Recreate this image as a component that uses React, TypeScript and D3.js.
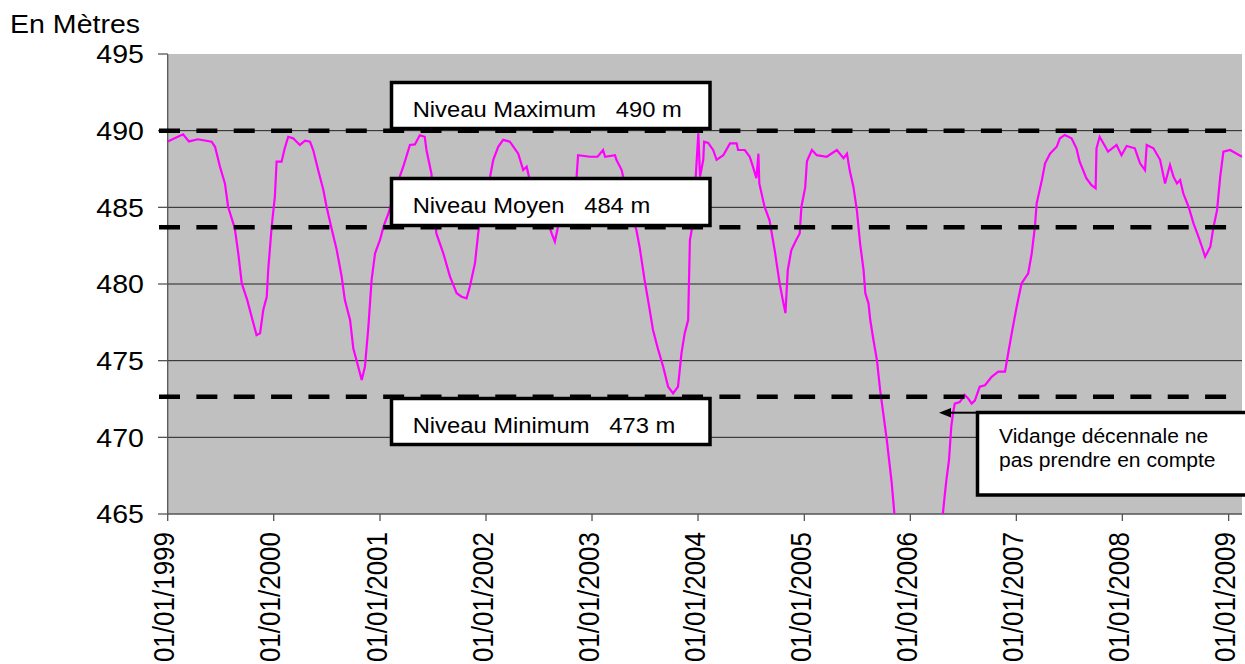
import { useEffect, useRef } from 'react'
import * as d3 from 'd3'

// water level of the reservoir (date, metres)
const level1999: [string, number][] = [
  ['1999-01-01', 489.3], ['1999-02-23', 489.76], ['1999-03-15', 489.3], ['1999-04-15', 489.44],
  ['1999-06-01', 489.28], ['1999-06-13', 488.95], ['1999-06-30', 487.65], ['1999-07-17', 486.56],
  ['1999-07-28', 485.04], ['1999-08-20', 483.63], ['1999-09-01', 482.0], ['1999-09-13', 480.04],
  ['1999-10-02', 478.95], ['1999-10-17', 477.87], ['1999-11-03', 476.67], ['1999-11-15', 476.78],
  ['1999-11-26', 478.3], ['1999-12-08', 479.17], ['1999-12-13', 480.9], ['1999-12-25', 483.74],
]
const level2000: [string, number][] = [
  ['2000-01-05', 485.7], ['2000-01-11', 487.98], ['2000-01-28', 487.98], ['2000-02-08', 488.85],
  ['2000-02-20', 489.6], ['2000-03-08', 489.5], ['2000-03-31', 489.07], ['2000-04-18', 489.35],
  ['2000-05-05', 489.28], ['2000-05-16', 488.74], ['2000-06-02', 487.43], ['2000-06-20', 486.13],
  ['2000-07-01', 485.04], ['2000-07-18', 483.63], ['2000-08-05', 482.22], ['2000-08-22', 480.48],
  ['2000-09-02', 478.95], ['2000-09-20', 477.65], ['2000-10-01', 475.8], ['2000-10-18', 474.6],
  ['2000-10-30', 473.74], ['2000-11-10', 474.6], ['2000-11-22', 477.2], ['2000-12-03', 480.26],
  ['2000-12-15', 482.0],
]
const level2001: [string, number][] = [
  ['2001-01-01', 482.87], ['2001-01-13', 483.74], ['2001-01-30', 484.6], ['2001-02-25', 486.3],
  ['2001-03-22', 487.65], ['2001-04-14', 489.07], ['2001-05-01', 489.1], ['2001-05-18', 489.7],
  ['2001-06-04', 489.6], ['2001-06-10', 488.74], ['2001-06-27', 487.2], ['2001-07-14', 483.3],
  ['2001-08-07', 482.0], ['2001-08-30', 480.48], ['2001-09-22', 479.4], ['2001-10-09', 479.17],
  ['2001-10-26', 479.07], ['2001-11-06', 479.8], ['2001-11-24', 481.35], ['2001-12-05', 483.3],
  ['2001-12-17', 484.8],
]
const level2002: [string, number][] = [
  ['2002-01-15', 487.0], ['2002-01-26', 488.1], ['2002-02-12', 488.95], ['2002-03-01', 489.4],
  ['2002-03-24', 489.28], ['2002-04-22', 488.5], ['2002-05-09', 487.43], ['2002-05-21', 487.65],
  ['2002-06-10', 486.0], ['2002-07-20', 484.8], ['2002-08-15', 483.3], ['2002-08-26', 482.76],
  ['2002-09-06', 483.74], ['2002-10-10', 485.5], ['2002-11-09', 487.0], ['2002-11-14', 488.4],
  ['2002-12-25', 488.3],
]
const level2003: [string, number][] = [
  ['2003-01-20', 488.3], ['2003-02-08', 488.74], ['2003-02-15', 488.3], ['2003-03-21', 488.4],
  ['2003-03-26', 488.1], ['2003-04-13', 487.43], ['2003-05-11', 485.0], ['2003-06-03', 483.5],
  ['2003-06-14', 482.4], ['2003-07-01', 480.26], ['2003-07-13', 478.95], ['2003-07-30', 477.0],
  ['2003-08-17', 475.7], ['2003-09-03', 474.6], ['2003-09-20', 473.3], ['2003-10-07', 472.87],
  ['2003-10-24', 473.3], ['2003-11-05', 475.48], ['2003-11-16', 476.78], ['2003-11-28', 477.65],
  ['2003-12-04', 482.87], ['2003-12-10', 483.5], ['2003-12-21', 486.0],
]
const level2004: [string, number][] = [
  ['2004-01-02', 489.83], ['2004-01-08', 487.0], ['2004-01-19', 488.1], ['2004-01-22', 489.28],
  ['2004-02-05', 489.2], ['2004-02-22', 488.74], ['2004-03-05', 488.1], ['2004-03-28', 488.4],
  ['2004-04-20', 489.17], ['2004-05-13', 489.17], ['2004-05-18', 488.74], ['2004-06-10', 488.74],
  ['2004-06-27', 488.3], ['2004-07-08', 487.65], ['2004-07-20', 486.9], ['2004-07-27', 488.5],
  ['2004-07-30', 486.56], ['2004-08-17', 485.04], ['2004-09-03', 484.17], ['2004-09-21', 482.2],
  ['2004-10-08', 480.04], ['2004-10-19', 478.95], ['2004-10-28', 478.1], ['2004-11-05', 480.9],
  ['2004-11-17', 482.2], ['2004-12-04', 482.87], ['2004-12-16', 483.3], ['2004-12-22', 485.04],
]
const level2005: [string, number][] = [
  ['2005-01-04', 486.3], ['2005-01-10', 488.0], ['2005-01-27', 488.74], ['2005-02-13', 488.4],
  ['2005-03-19', 488.3], ['2005-04-23', 488.74], ['2005-05-16', 488.2], ['2005-05-28', 488.5],
  ['2005-06-06', 487.43], ['2005-06-19', 486.35], ['2005-07-01', 484.8], ['2005-07-12', 482.65],
  ['2005-07-24', 480.9], ['2005-07-30', 479.4], ['2005-08-10', 478.74], ['2005-08-16', 477.65],
  ['2005-08-27', 476.35], ['2005-09-08', 475.04], ['2005-09-19', 473.1], ['2005-10-12', 469.83],
  ['2005-10-29', 467.0], ['2005-11-07', 465.04], ['2005-12-10', 461.0],
]
const level2006: [string, number][] = [
  ['2006-01-20', 458.5], ['2006-03-01', 458.5], ['2006-04-05', 462.0], ['2006-04-23', 465.0],
  ['2006-04-29', 466.13], ['2006-05-05', 467.2], ['2006-05-14', 468.5], ['2006-05-22', 470.7],
  ['2006-05-28', 471.57], ['2006-06-03', 472.2], ['2006-06-20', 472.3], ['2006-07-07', 472.76],
  ['2006-07-19', 472.54], ['2006-07-31', 472.2], ['2006-08-11', 472.4], ['2006-08-28', 473.3],
  ['2006-09-15', 473.4], ['2006-10-08', 473.95], ['2006-10-31', 474.28], ['2006-11-23', 474.28],
  ['2006-12-04', 475.48], ['2006-12-16', 476.78],
]
const level2007: [string, number][] = [
  ['2007-01-02', 478.5], ['2007-01-19', 480.04], ['2007-02-11', 480.7], ['2007-02-23', 482.0],
  ['2007-03-06', 483.74], ['2007-03-12', 485.26], ['2007-03-30', 486.78], ['2007-04-10', 487.87],
  ['2007-04-27', 488.5], ['2007-05-20', 488.95], ['2007-05-31', 489.5], ['2007-06-17', 489.72],
  ['2007-07-10', 489.5], ['2007-07-27', 488.85], ['2007-08-07', 487.98], ['2007-08-30', 486.9],
  ['2007-09-16', 486.46], ['2007-10-01', 486.24], ['2007-10-04', 488.85], ['2007-10-15', 489.6],
  ['2007-11-13', 488.63], ['2007-12-12', 489.07], ['2007-12-29', 488.4],
]
const level2008: [string, number][] = [
  ['2008-01-16', 489.0], ['2008-02-13', 488.85], ['2008-03-02', 487.87], ['2008-03-19', 487.43],
  ['2008-03-25', 489.07], ['2008-04-17', 488.85], ['2008-05-10', 488.1], ['2008-05-27', 486.56],
  ['2008-06-13', 487.76], ['2008-06-25', 487.0], ['2008-07-07', 486.56], ['2008-07-18', 486.78],
  ['2008-07-29', 485.9], ['2008-08-16', 485.04], ['2008-09-02', 483.96], ['2008-09-19', 483.09],
  ['2008-10-01', 482.43], ['2008-10-12', 481.78], ['2008-10-30', 482.43], ['2008-11-10', 483.74],
  ['2008-11-22', 484.8], ['2008-12-03', 487.0], ['2008-12-14', 488.63],
]
const level2009: [string, number][] = [
  ['2009-01-06', 488.74], ['2009-02-16', 488.3],
]

const yTicks = [465, 470, 475, 480, 485, 490, 495]
const gridValues = [470, 475, 480, 485, 490]
const yearTicks = d3.range(1999, 2010)
const refValues = [490, 483.7, 472.65]
const refTexts = ['Niveau Maximum   490 m', 'Niveau Moyen   484 m', 'Niveau Minimum   473 m']
const noteLines = ['Vidange décennale ne', 'pas prendre en compte']
const yTitle = 'En Mètres'

const FONT = '"Liberation Sans", Arial, sans-serif'

export default function App() {
  const svgRef = useRef<SVGSVGElement>(null)

  useEffect(() => {
    document.body.style.margin = '0'
    if (!svgRef.current) return
    const svg = d3.select(svgRef.current)
    svg.selectAll('*').remove()

    const parse = d3.utcParse('%Y-%m-%d')
    const points = [
      ...level1999, ...level2000, ...level2001, ...level2002, ...level2003,
      ...level2004, ...level2005, ...level2006, ...level2007, ...level2008, ...level2009,
    ].map(([d, v]) => ({ date: parse(d) as Date, value: v }))

    const left = 167.7, right = 1242, top = 54, bottom = 514
    const x = d3.scaleUtc()
      .domain([new Date(Date.UTC(1999, 0, 1)), new Date(Date.UTC(2009, 1, 16))])
      .range([left, right])
    const y = d3.scaleLinear().domain([465, 495]).range([bottom, top])

    svg.append('defs').append('clipPath').attr('id', 'plotClip')
      .append('rect').attr('x', left).attr('y', top).attr('width', right - left).attr('height', bottom - top)

    // plot background
    svg.append('rect').attr('x', left).attr('y', top).attr('width', right - left).attr('height', bottom - top)
      .attr('fill', '#c0c0c0')

    svg.selectAll('.grid').data(gridValues).enter().append('line')
      .attr('x1', left).attr('x2', right).attr('y1', d => y(d)).attr('y2', d => y(d))
      .attr('stroke', '#222').attr('stroke-width', 1)

    // axes
    svg.append('line').attr('x1', left).attr('x2', left).attr('y1', top).attr('y2', bottom)
      .attr('stroke', '#555').attr('stroke-width', 1.3)
    svg.append('line').attr('x1', left).attr('x2', right).attr('y1', bottom).attr('y2', bottom)
      .attr('stroke', '#555').attr('stroke-width', 1.3)
    svg.selectAll('.ytick').data(yTicks).enter().append('line')
      .attr('x1', 158).attr('x2', left).attr('y1', d => y(d)).attr('y2', d => y(d))
      .attr('stroke', '#555').attr('stroke-width', 1.3)
    svg.selectAll('.xtick').data(yearTicks).enter().append('line')
      .attr('x1', d => x(new Date(Date.UTC(d, 0, 1)))).attr('x2', d => x(new Date(Date.UTC(d, 0, 1))))
      .attr('y1', bottom).attr('y2', bottom + 7)
      .attr('stroke', '#555').attr('stroke-width', 1.3)

    svg.selectAll('.ylabel').data(yTicks).enter().append('text')
      .attr('transform', d => `translate(144,${y(d) + 9.3}) scale(1.12,1)`)
      .attr('text-anchor', 'end').style('font-family', FONT).style('font-size', '25.5px')
      .attr('fill', '#000').text(d => d)

    svg.selectAll('.xlabel').data(yearTicks).enter().append('text')
      .attr('transform', d => `translate(${x(new Date(Date.UTC(d, 0, 1))) + 6.5},532) scale(1.12,1) rotate(-90)`)
      .attr('text-anchor', 'end').style('font-family', FONT).style('font-size', '26px')
      .attr('fill', '#000').text(d => `01/01/${d}`)

    svg.append('text').attr('transform', 'translate(10,33.3) scale(1.12,1)')
      .style('font-family', FONT).style('font-size', '25.5px').attr('fill', '#000').text(yTitle)

    // level line
    const line = d3.line<{ date: Date; value: number }>()
      .x(d => x(d.date)).y(d => y(d.value))
    svg.append('path').datum(points).attr('clip-path', 'url(#plotClip)')
      .attr('fill', 'none').attr('stroke', '#ff00ff').attr('stroke-width', 2.2)
      .attr('stroke-linejoin', 'miter').attr('d', line)

    // label boxes
    const boxTop = [81, 177, 397]
    const boxBottom = [130, 227, 446]
    refTexts.forEach((t, i) => {
      svg.append('rect').attr('x', 391.5).attr('y', boxTop[i] + 1.5)
        .attr('width', 318.5).attr('height', boxBottom[i] - boxTop[i] - 3)
        .attr('fill', '#fff').attr('stroke', '#000').attr('stroke-width', 3.5)
      svg.append('text')
        .attr('transform', `translate(412.7,${boxTop[i] + 35.5}) scale(1.08,1)`)
        .style('font-family', FONT).style('font-size', '22px').style('white-space', 'pre')
        .attr('fill', '#000').text(t)
    })

    // reference dashed lines
    svg.selectAll('.ref').data(refValues).enter().append('line')
      .attr('x1', 159).attr('x2', 1228).attr('y1', d => y(d)).attr('y2', d => y(d))
      .attr('stroke', '#000').attr('stroke-width', 4.5).attr('stroke-dasharray', '21 16.36')

    // annotation
    svg.append('rect').attr('x', 977.5).attr('y', 412.5).attr('width', 300).attr('height', 82.5)
      .attr('fill', '#fff').attr('stroke', '#000').attr('stroke-width', 3.5)
    noteLines.forEach((t, i) => {
      svg.append('text').attr('transform', `translate(999,${442.7 + i * 24}) scale(1.08,1)`)
        .style('font-family', FONT).style('font-size', '19.5px').attr('fill', '#000').text(t)
    })
    svg.append('line').attr('x1', 976).attr('x2', 948).attr('y1', 412.7).attr('y2', 412.7)
      .attr('stroke', '#000').attr('stroke-width', 2)
    svg.append('path').attr('d', 'M939,412.7 L951,408 L951,417.4 Z').attr('fill', '#000')
  }, [])

  return <svg ref={svgRef} width={1245} height={664} style={{ display: 'block' }} />
}
